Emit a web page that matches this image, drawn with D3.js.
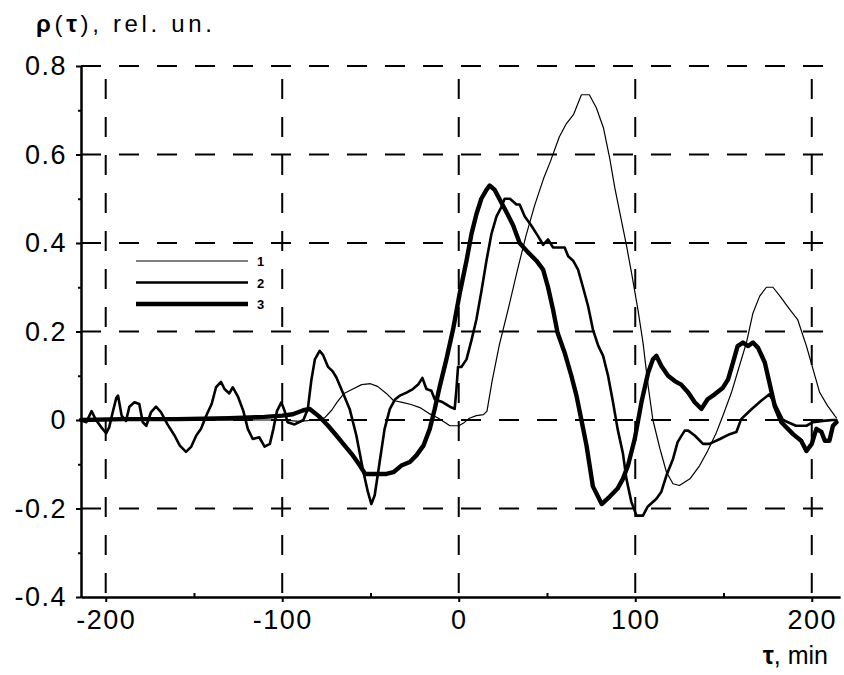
<!DOCTYPE html>
<meta charset="utf-8">
<style>
body { margin: 0; background: #fff; }
svg { font-family: "Liberation Sans", Arial, sans-serif; }
.grid line { stroke: #000; stroke-width: 2px; stroke-dasharray: 20,18; }
.axis path, .axis line { stroke: #000; stroke-width: 2px; }
.axis text { font-size: 27px; fill: #000; letter-spacing: 1.5px; }
.curve { fill: none; stroke: #000; stroke-linejoin: round; stroke-linecap: round; }
</style>
<body>
<script src="https://cdn.jsdelivr.net/npm/d3@7"></script>
<script>
// tick values
var xTicks = [-200, -100, 0, 100, 200];
var xMinor = [-150, -50, 50, 150];
var yTicks = [-0.4, -0.2, 0, 0.2, 0.4, 0.6, 0.8];
var yMinor = [-0.3, -0.1, 0.1, 0.3, 0.5, 0.7];
var legendLabels = ["1", "2", "3"];

// curve 1 (thin): [tau, rho]
var series1 = [[-214,0],[-200,0],[-150,0],[-100,0],[-90,-0.003],[-82,0],[-76,0.005],[-72,0.022],[-69,0.04],
  [-65,0.06],[-60,0.07],[-55,0.08],[-50,0.082],[-46,0.076],[-41,0.06],[-37,0.044],[-32,0.04],[-27,0.035],
  [-22,0.028],[-17,0.015],[-12,0.005],[-8,-0.005],[-5,-0.013],[0,-0.013],[3,-0.006],[6,0.004],[10,0.01],
  [14,0.012],[16,0.02],[19,0.09],[23,0.17],[28,0.25],[33,0.335],[38,0.415],[43,0.485],[48,0.545],[52,0.585],
  [57,0.64],[61,0.67],[65,0.69],[69.5,0.735],[74,0.735],[78,0.705],[82,0.66],[85.6,0.59],[88.4,0.525],
  [91.2,0.47],[95,0.395],[98,0.33],[101.5,0.25],[104.4,0.175],[107.3,0.077],[110,0],[114,-0.065],
  [117.7,-0.118],[121.4,-0.144],[125,-0.148],[131,-0.133],[136.5,-0.103],[141,-0.07],[146,-0.028],
  [149.7,0.01],[154.5,0.062],[159,0.122],[163,0.175],[166.7,0.242],[170.5,0.28],[174.3,0.3],[178,0.3],
  [182,0.28],[187.5,0.25],[192,0.227],[197,0.167],[200.7,0.115],[204.5,0.062],[209,0.032],[213,0.01],[214,0.005]];

// curve 2 (medium)
var series2 = [[-214,0],[-211,-0.005],[-208,0.02],[-205.5,0],[-202.6,-0.016],[-199.7,-0.03],[-198,-0.016],
  [-196,0.018],[-194,0.05],[-193,0.055],[-191,0.01],[-188.5,-0.002],[-186.6,0.03],[-183.7,0.04],[-181,0.036],
  [-179,-0.005],[-177,-0.013],[-174.3,0.018],[-171.5,0.03],[-168.7,0.018],[-165,-0.01],[-161,-0.035],
  [-158,-0.058],[-154.5,-0.072],[-151.5,-0.06],[-148.7,-0.035],[-146,-0.02],[-143,0.01],[-140,0.036],
  [-137.5,0.074],[-134.7,0.086],[-132.7,0.07],[-130,0.06],[-128,0.074],[-125,0.052],[-122,0.02],[-119.5,-0.02],
  [-116.7,-0.043],[-113,-0.039],[-110,-0.06],[-107,-0.054],[-105,-0.02],[-103,0.02],[-100.5,0.04],[-98.6,0.02],
  [-97,-0.005],[-93,-0.01],[-88,0],[-85.5,0.025],[-83.5,0.09],[-81.5,0.137],[-78.8,0.156],[-77,0.148],
  [-74,0.12],[-71.4,0.11],[-69.3,0.096],[-65.7,0.062],[-61.8,0.025],[-58,-0.035],[-54.4,-0.11],[-51.5,-0.162],
  [-49.5,-0.19],[-47.6,-0.17],[-44.8,-0.095],[-42,-0.02],[-39,0.025],[-36,0.047],[-33.4,0.055],[-29.6,0.062],
  [-26,0.07],[-23,0.08],[-20.6,0.095],[-18.3,0.07],[-15.5,0.066],[-13.6,0.047],[-9,0.04],[-5,0.03],[-2.3,0.025],
  [-1.3,0.07],[-0.4,0.12],[1.5,0.12],[4.4,0.137],[7.2,0.18],[10,0.227],[12.8,0.29],[15.7,0.36],[18.5,0.42],
  [21.4,0.46],[24,0.48],[26,0.5],[29,0.5],[32.7,0.487],[34.5,0.487],[37.4,0.46],[41,0.44],[45,0.415],
  [47.8,0.396],[50.6,0.408],[53.4,0.39],[57,0.39],[60,0.39],[62,0.37],[64.8,0.36],[67.6,0.34],[70.4,0.3],
  [73.3,0.257],[76,0.205],[79,0.168],[81.8,0.145],[84.6,0.1],[87.4,0.04],[90,-0.02],[93,-0.075],[95,-0.133],
  [97.8,-0.185],[100.7,-0.216],[104.4,-0.216],[107,-0.196],[112,-0.178],[114.8,-0.162],[117.7,-0.125],
  [121.4,-0.088],[124,-0.05],[128,-0.024],[130,-0.024],[133.7,-0.035],[138.4,-0.054],[142,-0.054],[148,-0.043],
  [153.5,-0.032],[157.3,-0.027],[160,0.002],[166,0.025],[171.5,0.044],[176,0.058],[180,0.03],[183.7,0],
  [191,-0.013],[197,-0.013],[200.7,-0.005],[206.4,-0.002],[212,0],[214,0]];

// curve 3 (thick)
var series3 = [[-214,0],[-190,0.002],[-160,0.002],[-130,0.004],[-110,0.007],[-100,0.01],[-94,0.013],[-88,0.022],
  [-84.4,0.025],[-78.8,0.007],[-74,-0.013],[-69.3,-0.035],[-64.6,-0.058],[-60,-0.08],[-56,-0.103],[-53,-0.122],
  [-41,-0.122],[-37,-0.118],[-32.5,-0.103],[-27.7,-0.095],[-24,-0.08],[-20,-0.058],[-16.4,-0.02],[-13.6,0.025],
  [-10.8,0.075],[-7,0.137],[-3.2,0.205],[0.6,0.287],[4.4,0.36],[7.2,0.42],[10,0.465],[12.8,0.5],[15.7,0.52],
  [17.5,0.53],[20.4,0.52],[23,0.5],[27,0.47],[30.8,0.44],[34.5,0.4],[39,0.38],[44,0.36],[47.8,0.34],[50.6,0.3],
  [53.4,0.25],[56,0.197],[60,0.152],[63.8,0.1],[66.7,0.055],[69.5,0],[72.4,-0.058],[76,-0.15],[81,-0.19],
  [85.6,-0.173],[90,-0.155],[93,-0.133],[95.9,-0.103],[99.7,-0.043],[103.5,0.04],[107.3,0.107],[110,0.137],
  [112,0.145],[114.8,0.122],[118.6,0.1],[122.4,0.088],[126,0.08],[130,0.062],[133.7,0.04],[137.5,0.025],
  [141,0.047],[145,0.058],[149.7,0.073],[152.6,0.092],[155.4,0.13],[158,0.167],[161,0.175],[164,0.167],
  [166.7,0.175],[169.6,0.163],[173.4,0.13],[176,0.085],[179,0.032],[182.8,-0.005],[189.4,-0.032],[194,-0.047],
  [197,-0.07],[200,-0.054],[202.6,-0.02],[205.5,-0.027],[207.4,-0.047],[210,-0.047],[212,-0.013],[214,-0.005]];

var width = 844, height = 675;

var svg = d3.select("body").append("svg")
    .attr("width", width)
    .attr("height", height);

// scales
var x = d3.scaleLinear().domain([-214, 216]).range([81, 840]);
var y = d3.scaleLinear().domain([-0.4, 0.8]).range([597, 66]);

// dashed grid
var grid = svg.append("g").attr("class", "grid");
grid.selectAll(".hg")
    .data(yTicks.filter(function(d) { return d > -0.4; }))
  .enter().append("line")
    .attr("x1", x(-214)).attr("x2", x(216))
    .attr("y1", function(d) { return y(d); })
    .attr("y2", function(d) { return y(d); });
grid.selectAll(".vg")
    .data(xTicks)
  .enter().append("line")
    .attr("x1", function(d) { return x(d); })
    .attr("x2", function(d) { return x(d); })
    .attr("y1", y(0.8)).attr("y2", y(-0.4))
    .style("stroke-dashoffset", 25);

// axes
var fmt = function(d) { return String(d); };
svg.append("g")
    .attr("class", "axis")
    .attr("transform", "translate(" + x(-214) + ",0)")
    .call(d3.axisLeft(y).tickValues(yTicks).tickFormat(fmt).tickSize(5).tickSizeOuter(0).tickPadding(9));
svg.append("g")
    .attr("class", "axis")
    .attr("transform", "translate(" + x(-214) + ",0)")
    .call(d3.axisLeft(y).tickValues(yMinor).tickFormat("").tickSize(3).tickSizeOuter(0));
svg.append("g")
    .attr("class", "axis")
    .attr("transform", "translate(0," + y(-0.4) + ")")
    .call(d3.axisBottom(x).tickValues(xTicks).tickFormat(fmt).tickSize(5).tickSizeOuter(0).tickPadding(8));
svg.append("g")
    .attr("class", "axis")
    .attr("transform", "translate(0," + y(-0.4) + ")")
    .call(d3.axisBottom(x).tickValues(xMinor).tickFormat("").tickSize(-4).tickSizeOuter(0));

// curves
var line = d3.line()
    .x(function(d) { return x(d[0]); })
    .y(function(d) { return y(d[1]); });

var allSeries = [series1, series2, series3];
var widths = [1.2, 2.6, 4.4];

svg.selectAll(".curve")
    .data(allSeries)
  .enter().append("path")
    .attr("class", "curve")
    .attr("d", line)
    .style("stroke-width", function(d, i) { return widths[i]; });

// legend
var leg = svg.append("g").attr("transform", "translate(136,261)");
legendLabels.forEach(function(lab, i) {
    leg.append("line")
        .attr("x1", 0).attr("x2", 112)
        .attr("y1", i * 21.5).attr("y2", i * 21.5)
        .style("stroke", "#000")
        .style("stroke-width", widths[i]);
    leg.append("text")
        .attr("x", 121).attr("y", i * 21.5 + 5)
        .style("font-size", "13px")
        .style("font-weight", "bold")
        .text(lab);
});

// axis titles
var yt = svg.append("text")
    .attr("x", 36).attr("y", 32)
    .attr("textLength", 176)
    .attr("lengthAdjust", "spacing")
    .style("font-size", "24px");
yt.append("tspan").style("font-weight", "bold").text("ρ");
yt.append("tspan").text("(");
yt.append("tspan").style("font-weight", "bold").text("τ");
yt.append("tspan").text("), rel. un.");

var xt = svg.append("text")
    .attr("x", 828).attr("y", 664)
    .attr("text-anchor", "end")
    .style("font-size", "25px");
xt.append("tspan").style("font-weight", "bold").text("τ");
xt.append("tspan").text(", min");
</script>
</body>
